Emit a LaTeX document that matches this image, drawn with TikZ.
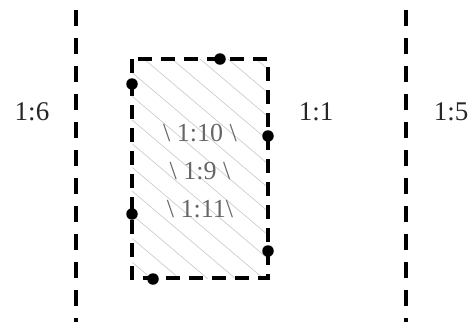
\documentclass[tikz,border=0pt]{standalone}
\usepackage{fontspec}
\setmainfont{Liberation Serif}
\usetikzlibrary{positioning}

\begin{document}
\begin{tikzpicture}[
    x=1pt, y=-1pt,
    divider/.style={line width=3.4pt, dash pattern=on 16pt off 12pt},
    frame/.style={line width=3.4pt, dash pattern=on 14pt off 9pt},
    hatch/.style={black!22, line width=0.6pt},
    pin/.style={circle, fill=black, inner sep=0pt, minimum size=11.5pt},
    tag/.style={font=\fontsize{27}{32}\selectfont, text=black!85},
    inner/.style={font=\fontsize{26}{38}\selectfont, text=black!60, align=center}
]
\useasboundingbox (0,0) rectangle (469,325);

% Dividers
\coordinate (lefttop) at (76,10);
\coordinate (leftbot) at (76,322);
\coordinate (righttop) at (406,10);
\coordinate (rightbot) at (406,322);
\draw[divider] (lefttop) -- (leftbot);
\draw[divider] (righttop) -- (rightbot);

% Ratio labels
\node[tag] (six) at (32,112) {1:6};
\node[tag] (one) at (316,112) {1:1};
\node[tag] (five) at (451,112) {1:5};

% Hatched box
\coordinate (nw) at (132,59);
\coordinate (se) at (268,278);
\begin{scope}
  \clip (nw) rectangle (se);
  \foreach \x in {-220,-192,...,268}
    \draw[hatch] (\x,59) -- ++(260,220);
\end{scope}
\draw[frame] (nw) rectangle (se);
\node[inner] (ratios) at (200,171) {\textbackslash\ 1:10 \textbackslash\\ \textbackslash\ 1:9 \textbackslash\\ \textbackslash\ 1:11\textbackslash};

% Pins
\node[pin] (ptop) at (220,59) {};
\node[pin] (pleft1) at (132,84) {};
\node[pin] (pleft2) at (132,214) {};
\node[pin] (pright1) at (268,136) {};
\node[pin] (pright2) at (268,251) {};
\node[pin] (pbot) at (153,279) {};

\end{tikzpicture}
\end{document}
